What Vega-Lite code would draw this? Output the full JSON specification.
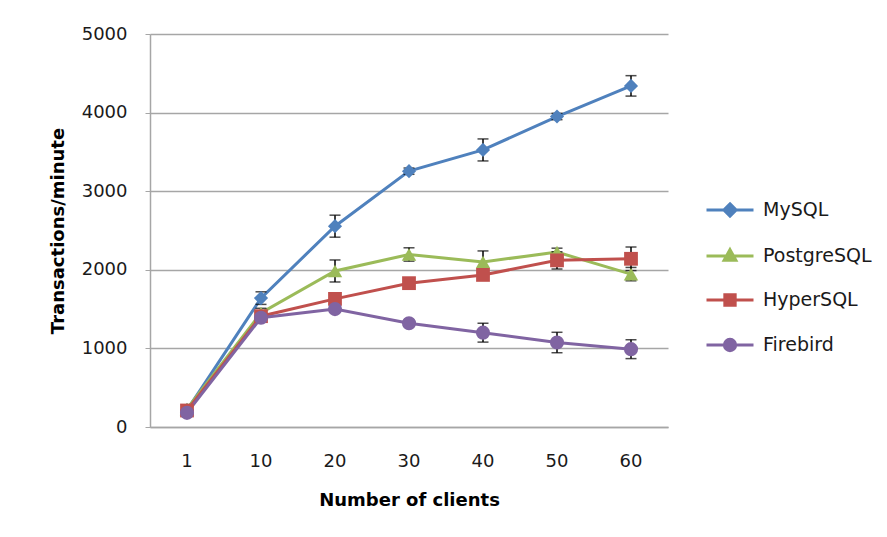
{
  "$schema": "https://vega.github.io/schema/vega-lite/v6.json",
  "width": 518,
  "height": 393,
  "autosize": {"type": "none"},
  "padding": {"left": 150, "top": 34, "right": 219, "bottom": 110},
  "background": "white",
  "config": {
    "view": {"stroke": null},
    "font": "DejaVu Sans",
    "axis": {"labelFont": "DejaVu Sans", "titleFont": "DejaVu Sans", "labelColor": "#1a1a1a", "titleColor": "#000000"}
  },
  "data": {
    "values": [
      {"clients": "1", "db": "MySQL", "tpm": 215, "err": 30},
      {"clients": "10", "db": "MySQL", "tpm": 1640, "err": 80},
      {"clients": "20", "db": "MySQL", "tpm": 2555, "err": 140},
      {"clients": "30", "db": "MySQL", "tpm": 3255, "err": 40},
      {"clients": "40", "db": "MySQL", "tpm": 3525, "err": 140},
      {"clients": "50", "db": "MySQL", "tpm": 3950, "err": 40},
      {"clients": "60", "db": "MySQL", "tpm": 4340, "err": 130},
      {"clients": "1", "db": "PostgreSQL", "tpm": 230, "err": 30},
      {"clients": "10", "db": "PostgreSQL", "tpm": 1450, "err": 60},
      {"clients": "20", "db": "PostgreSQL", "tpm": 1985, "err": 140},
      {"clients": "30", "db": "PostgreSQL", "tpm": 2195, "err": 85},
      {"clients": "40", "db": "PostgreSQL", "tpm": 2100, "err": 140},
      {"clients": "50", "db": "PostgreSQL", "tpm": 2225, "err": 50},
      {"clients": "60", "db": "PostgreSQL", "tpm": 1945, "err": 85},
      {"clients": "1", "db": "HyperSQL", "tpm": 210, "err": 30},
      {"clients": "10", "db": "HyperSQL", "tpm": 1410, "err": 50},
      {"clients": "20", "db": "HyperSQL", "tpm": 1630, "err": 40},
      {"clients": "30", "db": "HyperSQL", "tpm": 1830, "err": 40},
      {"clients": "40", "db": "HyperSQL", "tpm": 1935, "err": 40},
      {"clients": "50", "db": "HyperSQL", "tpm": 2120, "err": 110},
      {"clients": "60", "db": "HyperSQL", "tpm": 2140, "err": 150},
      {"clients": "1", "db": "Firebird", "tpm": 180, "err": 30},
      {"clients": "10", "db": "Firebird", "tpm": 1390, "err": 40},
      {"clients": "20", "db": "Firebird", "tpm": 1500, "err": 40},
      {"clients": "30", "db": "Firebird", "tpm": 1320, "err": 40},
      {"clients": "40", "db": "Firebird", "tpm": 1200, "err": 120},
      {"clients": "50", "db": "Firebird", "tpm": 1075, "err": 130},
      {"clients": "60", "db": "Firebird", "tpm": 990, "err": 120}
    ]
  },
  "encoding": {
    "x": {
      "field": "clients",
      "type": "ordinal",
      "sort": ["1", "10", "20", "30", "40", "50", "60"],
      "scale": {"type": "band", "paddingInner": 0, "paddingOuter": 0},
      "axis": {
        "title": "Number of clients",
        "titleFontSize": 18,
        "titleFontWeight": "bold",
        "titlePadding": 21,
        "labelFontSize": 18,
        "labelAngle": 0,
        "labelPadding": 25,
        "ticks": false,
        "domainColor": "#a6a6a6",
        "domainWidth": 1.5,
        "grid": false
      }
    },
    "y": {
      "field": "tpm",
      "type": "quantitative",
      "title": "Transactions/minute",
      "scale": {"domain": [0, 5000], "nice": false},
      "axis": {
        "format": "d",
        "titleFontSize": 18,
        "titleFontWeight": "bold",
        "titlePadding": 14,
        "labelFontSize": 18,
        "labelPadding": 18,
        "values": [0, 1000, 2000, 3000, 4000, 5000],
        "tickSize": 5,
        "tickColor": "#a6a6a6",
        "domainColor": "#a6a6a6",
        "domainWidth": 1.5,
        "gridColor": "#a6a6a6",
        "gridWidth": 1.5
      }
    }
  },
  "layer": [
    {
      "mark": {"type": "line", "strokeWidth": 3},
      "encoding": {
        "stroke": {
          "field": "db",
          "type": "nominal",
          "scale": {
            "domain": ["MySQL", "PostgreSQL", "HyperSQL", "Firebird"],
            "range": ["#4F81BD", "#9BBB59", "#C0504D", "#8064A2"]
          },
          "legend": {
            "title": null,
            "orient": "none",
            "legendX": 555,
            "legendY": 151,
            "padding": 0,
            "symbolSize": 2209,
            "symbolStrokeWidth": 3,
            "rowPadding": 8,
            "labelOffset": 8,
            "labelFont": "DejaVu Sans",
            "labelFontSize": 19,
            "labelColor": "#1a1a1a",
            "encode": {
              "symbols": {
                "update": {
                  "shape": {"signal": "datum.value === 'MySQL' ? 'M-1,0H1M0,-0.26L0.26,0L0,0.26L-0.26,0Z' : datum.value === 'PostgreSQL' ? 'M-1,0H1M0,-0.27L0.25,0.18L-0.25,0.18Z' : datum.value === 'HyperSQL' ? 'M-1,0H1M-0.22,-0.22H0.22V0.22H-0.22Z' : 'M-1,0H1M-0.24,0A0.24,0.24 0 1,0 0.24,0A0.24,0.24 0 1,0 -0.24,0Z'"},
                  "stroke": {"scale": "stroke", "field": "value"},
                  "fill": {"scale": "stroke", "field": "value"},
                  "strokeWidth": {"value": 3},
                  "opacity": {"value": 1},
                  "fillOpacity": {"value": 1}
                }
              }
            }
          }
        }
      }
    },
    {
      "mark": {
        "type": "errorbar",
        "ticks": {"size": 11, "color": "#000000", "thickness": 1.5},
        "rule": {"color": "#000000", "strokeWidth": 1.5}
      },
      "encoding": {
        "y": {"field": "tpm", "type": "quantitative", "title": "Transactions/minute"},
        "yError": {"field": "err"}
      }
    },
    {
      "transform": [{"filter": "datum.db === 'MySQL'"}],
      "mark": {"type": "point", "filled": true, "opacity": 1, "size": 200, "shape": "diamond", "color": "#4F81BD"}
    },
    {
      "transform": [{"filter": "datum.db === 'PostgreSQL'"}],
      "mark": {"type": "point", "filled": true, "opacity": 1, "size": 210, "shape": "triangle-up", "color": "#9BBB59"}
    },
    {
      "transform": [{"filter": "datum.db === 'HyperSQL'"}],
      "mark": {"type": "point", "filled": true, "opacity": 1, "size": 190, "shape": "square", "color": "#C0504D"}
    },
    {
      "transform": [{"filter": "datum.db === 'Firebird'"}],
      "mark": {"type": "point", "filled": true, "opacity": 1, "size": 200, "shape": "circle", "color": "#8064A2"}
    }
  ]
}
